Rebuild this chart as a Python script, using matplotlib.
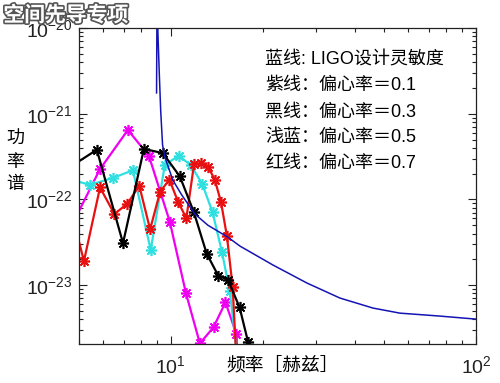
import matplotlib
matplotlib.use('Agg')
import matplotlib.pyplot as plt
import matplotlib.patheffects as pe
from matplotlib.ticker import LogLocator, NullFormatter

plt.rcParams['font.family'] = ['Liberation Sans', 'Noto Sans CJK SC', 'DejaVu Sans']
plt.rcParams['mathtext.fontset'] = 'custom'
plt.rcParams['mathtext.rm'] = 'Liberation Sans'
plt.rcParams['mathtext.it'] = 'Liberation Sans:italic'

# ---------- data (frequency in Hz, power)
ligo_f = [8.977, 9.025, 9.058, 9.155, 9.26, 9.393, 9.557, 10.15, 10.87, 11.99,
          13.22, 15.38, 16.84, 21.6, 27.92, 35.81, 45.95, 56.34, 76.2, 100.0]
ligo_p = [1.75e-21, 8.13e-20, 1.0e-20, 3.24e-21, 1.10e-21, 4.32e-22, 3.13e-22, 1.68e-22,
          1.12e-22, 6.76e-23, 5.01e-23, 3.63e-23, 2.86e-23, 1.72e-23, 1.06e-23, 7.08e-24,
          5.41e-24, 4.72e-24, 4.36e-24, 4.02e-24]

e01_f = [4.53, 5.85, 7.23, 8.47, 9.92, 11.2, 12.45, 13.8, 15.1, 16.4, 17.7]
e01_p = [3.63e-23, 2.24e-22, 6.46e-22, 3.24e-22, 5.50e-23, 8.13e-24, 2.09e-24,
         3.24e-24, 6.31e-24, 2.69e-24, 1e-26]

e03_f = [4.5, 5.72, 6.97, 8.16, 9.41, 10.7, 11.9, 13.1, 14.3, 15.4, 16.8, 17.9, 19.1]
e03_p = [2.19e-22, 3.80e-22, 3.09e-23, 3.89e-22, 3.47e-22, 1.86e-22, 7.08e-23,
         2.34e-23, 1.29e-23, 1.15e-23, 5.50e-24, 2.19e-24, 1e-25]

e05_f = [4.41, 5.43, 6.45, 7.51, 8.59, 9.55, 10.6, 11.63, 12.68, 13.7, 14.7, 15.6, 16.6]
e05_p = [1.82e-22, 1.48e-22, 1.78e-22, 2.19e-22, 2.57e-23, 2.51e-22, 3.24e-22,
         2.51e-22, 1.51e-22, 7.08e-23, 2.45e-23, 8.51e-24, 1.23e-24]

e07_f = [4.52, 5.19, 5.86, 6.53, 7.20, 7.88, 8.55, 9.22, 9.89, 10.57, 11.24, 11.91,
         12.58, 13.25, 13.93, 14.60, 15.27, 15.94, 16.61]
e07_p = [1.32e-22, 1.91e-23, 1.38e-22, 6.76e-23, 8.91e-23, 1.45e-22, 4.47e-23,
         1.23e-22, 1.70e-22, 9.33e-23, 6.03e-23, 2.57e-22, 2.63e-22, 2.40e-22,
         1.70e-22, 9.33e-23, 3.72e-23, 9.55e-24, 5.62e-25]

y_major = [1e-23, 1e-22, 1e-21, 1e-20]
x_major = [10, 100]

legend_lines = ['蓝线: LIGO设计灵敏度',
                '紫线：偏心率＝0.1',
                '黑线：偏心率＝0.3',
                '浅蓝：偏心率＝0.5',
                '红线：偏心率＝0.7']

fig = plt.figure(figsize=(5, 3.83), dpi=100)
ax = fig.add_axes([0.158, 0.1018, 0.794, 0.8251])

star = (8, 2, 0)
kw = dict(linewidth=1.6, marker=star, markersize=8, markeredgewidth=1.2)
ax.plot(e01_f, e01_p, color='#f000f0', **kw)
ax.plot(e05_f, e05_p, color='#30e0e0', **kw)
ax.plot(e07_f, e07_p, color='#e81010', **kw)
ax.plot(e03_f, e03_p, color='black', **kw)
ax.plot(ligo_f, ligo_p, color='#1414b4', linewidth=1.1)

ax.set_xscale('log')
ax.set_yscale('log')
ax.set_xlim(5, 100)
ax.set_ylim(2.06e-24, 1e-20)
ax.set_xticks(x_major)
ax.set_yticks(y_major)
ax.yaxis.set_minor_locator(LogLocator(base=10, subs=range(2, 10), numticks=20))
ax.xaxis.set_minor_formatter(NullFormatter())
ax.yaxis.set_minor_formatter(NullFormatter())
ax.tick_params(which='both', direction='in', top=True, right=True, width=0.8, colors='#222222')
ax.tick_params(which='major', length=6, labelsize=14, pad=5)
ax.tick_params(which='minor', length=3)
ax.tick_params(axis='x', which='major', pad=8)
for s in ax.spines.values():
    s.set_linewidth(0.9)
    s.set_color('#222222')

for i, line in enumerate(legend_lines):
    ax.text(0.4685, 0.899 - i * 0.0822, line, transform=ax.transAxes,
            fontsize=13, va='center', ha='left')

fig.text(283 / 500, 1 - 366 / 383, '频率［赫兹］', fontsize=13.5, ha='center', va='center')
fig.text(15 / 500, 1 - 162 / 383, '功\n率\n谱', fontsize=13, ha='center', va='center',
         linespacing=1.45)

fig.text(66 / 500, 1 - 15 / 383, '空间先导专项', fontsize=15, fontweight='bold',
         family=['Noto Sans CJK SC'], color='white', ha='center', va='center',
         path_effects=[pe.withStroke(linewidth=2.4, foreground='#555555')])

fig.savefig('out.png', dpi=100)
